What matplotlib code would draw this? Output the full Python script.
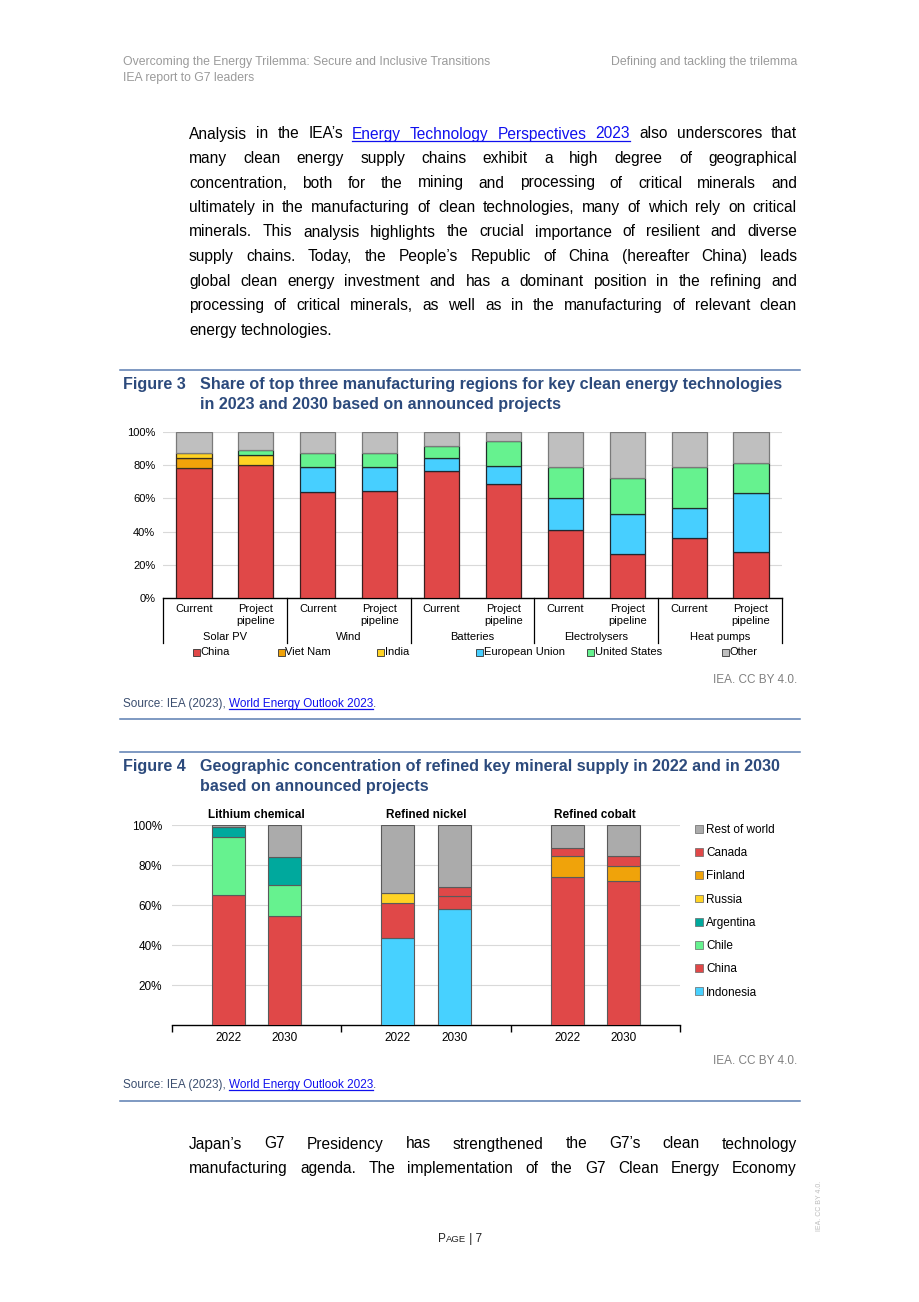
import matplotlib
matplotlib.use('Agg')
import matplotlib.pyplot as plt
from matplotlib import font_manager
from matplotlib.lines import Line2D
from matplotlib.patches import Rectangle
from matplotlib.ticker import PercentFormatter, FixedLocator

################ DATA ########################
# Figure 3 - share of top manufacturing regions (%)
tech_groups = ['Solar PV', 'Wind', 'Batteries', 'Electrolysers', 'Heat pumps']
stage_labels = ['Current', 'Project\npipeline']
f3_series = ['China', 'Viet Nam', 'India', 'European Union', 'United States', 'Other']
f3_china = [78.6, 80.4, 64.0, 64.4, 76.4, 68.4, 40.8, 26.4, 36.0, 27.6]
f3_vietnam = [5.6, 0, 0, 0, 0, 0, 0, 0, 0, 0]
f3_india = [3.4, 5.6, 0, 0, 0, 0, 0, 0, 0, 0]
f3_eu = [0, 0, 15.2, 14.6, 8.2, 11.4, 19.2, 24.0, 18.0, 35.6]
f3_us = [0, 3.2, 8.4, 8.2, 6.8, 15.0, 18.8, 21.6, 25.2, 18.2]
f3_other = [12.4, 10.8, 12.4, 12.8, 8.6, 5.2, 21.2, 28.0, 20.8, 18.6]

# Figure 4 - refined mineral supply (%), order: Li 22, Li 30, Ni 22, Ni 30, Co 22, Co 30
minerals = ['Lithium chemical', 'Refined nickel', 'Refined cobalt']
years = ['2022', '2030']
f4_series = ['Indonesia', 'China', 'Chile', 'Argentina', 'Russia', 'Finland', 'Canada', 'Rest of world']
f4_indonesia = [0, 0, 43.3, 58.0, 0, 0]
f4_china = [65.0, 54.5, 17.7, 6.5, 74.0, 71.8]
f4_chile = [28.8, 15.3, 0, 0, 0, 0]
f4_argentina = [5.0, 14.2, 0, 0, 0, 0]
f4_russia = [0, 0, 4.8, 0, 0, 0]
f4_finland = [0, 0, 0, 0, 10.3, 7.7]
f4_canada = [0, 0, 0, 4.5, 4.0, 5.0]
f4_rest = [1.2, 16.0, 34.2, 31.0, 11.7, 15.5]
##############################################

RED = '#E04848'
ORANGE = '#F0A30A'
YELLOW = '#FFD324'
BLUE = '#47CFFF'
GREEN = '#66F28F'
TEAL = '#00A99D'
GREY = '#BFBFBF'
GREY2 = '#ABABAB'
TITLE_BLUE = '#2C4A7C'
RULE_BLUE = '#5B7DB1'
LINK = '#1010EE'

plt.rcParams['font.family'] = ['Liberation Sans', 'DejaVu Sans']

W, H = 920, 1302
fig = plt.figure(figsize=(W / 100, H / 100), dpi=100)
renderer = fig.canvas.get_renderer()

def fx(x):
    return x / W

def fy(y):
    return 1 - y / H

def text_w(s, **kw):
    t = fig.text(0, 0, s, **kw)
    w = t.get_window_extent(renderer).width
    t.remove()
    return w

def underline(x0, x1, y, color):
    fig.add_artist(Line2D([fx(x0), fx(x1)], [fy(y), fy(y)], color=color, lw=0.9,
                          transform=fig.transFigure))

def parse(line):
    toks = []
    link = False
    for w in line.split(' '):
        if w.startswith('['):
            link = True
            w = w[1:]
        end = w.endswith(']')
        if end:
            w = w[:-1]
        toks.append((w, link))
        if end:
            link = False
    return toks

def body_line(line, base, justify=True, x0=189, x1=797, size=11.2):
    toks = parse(line)
    widths = [text_w(w, fontsize=size) for w, _ in toks]
    space = text_w('a a', fontsize=size) - text_w('aa', fontsize=size)
    if justify and len(toks) > 1:
        gap = (x1 - x0 - sum(widths)) / (len(toks) - 1)
    else:
        gap = space
    x = x0
    link_start = None
    for (w, link), wd in zip(toks, widths):
        fig.text(fx(x), fy(base), w, fontsize=size, va='baseline', ha='left',
                 color=LINK if link else 'black')
        if link:
            if link_start is None:
                link_start = x
            link_end = x + wd
        x += wd + gap
    if link_start is not None:
        underline(link_start, link_end, base + 2, LINK)

def segments(segs, x, y, size, color):
    # segs: list of (text, is_link)
    for s, link in segs:
        wd = text_w(s, fontsize=size)
        fig.text(fx(x), fy(y), s, fontsize=size, va='baseline', ha='left',
                 color=LINK if link else color)
        if link:
            underline(x, x + wd, y + 2, LINK)
        x += wd

#### HEADER
narrow = [f.name for f in font_manager.fontManager.ttflist if f.name == 'Liberation Sans Narrow']
if narrow:
    hfam, hsize = 'Liberation Sans Narrow', 10.3
else:
    hfam, hsize = 'Liberation Sans', 8.8
fig.text(fx(123), fy(62), 'Overcoming the Energy Trilemma: Secure and Inclusive Transitions',
         fontsize=hsize, family=hfam, color='#9A9A9A', va='center')
fig.text(fx(123), fy(78), 'IEA report to G7 leaders', fontsize=hsize, family=hfam,
         color='#9A9A9A', va='center')
fig.text(fx(797), fy(62), 'Defining and tackling the trilemma', fontsize=hsize, family=hfam,
         color='#9A9A9A', va='center', ha='right')

#### BODY TEXT
para1 = [
    'Analysis in the IEA\u2019s [Energy Technology Perspectives 2023] also underscores that',
    'many clean energy supply chains exhibit a high degree of geographical',
    'concentration, both for the mining and processing of critical minerals and',
    'ultimately in the manufacturing of clean technologies, many of which rely on critical',
    'minerals. This analysis highlights the crucial importance of resilient and diverse',
    'supply chains. Today, the People\u2019s Republic of China (hereafter China) leads',
    'global clean energy investment and has a dominant position in the refining and',
    'processing of critical minerals, as well as in the manufacturing of relevant clean',
    'energy technologies.',
]
for i, line in enumerate(para1):
    body_line(line, 138.5 + i * 24.5, justify=(i < len(para1) - 1))

para2 = [
    'Japan\u2019s G7 Presidency has strengthened the G7\u2019s clean technology',
    'manufacturing agenda. The implementation of the G7 Clean Energy Economy',
]
for i, line in enumerate(para2):
    body_line(line, 1148.5 + i * 24.5, justify=True)

#### FIGURE FRAMES
def rule(y):
    fig.add_artist(Line2D([fx(120), fx(800)], [fy(y), fy(y)], color=RULE_BLUE, lw=1.1,
                          transform=fig.transFigure))

def fig_title(num, lines, y0):
    fig.text(fx(123), fy(y0), 'Figure ' + num, fontsize=11.6, fontweight='bold',
             color=TITLE_BLUE, va='center')
    for i, l in enumerate(lines):
        fig.text(fx(200), fy(y0 + 19 * i), l, fontsize=11.6, fontweight='bold',
                 color=TITLE_BLUE, va='center')

def fig_source(y_cc, y_src):
    fig.text(fx(797), fy(y_cc), 'IEA. CC BY 4.0.', fontsize=8.5, color='#808080',
             va='center', ha='right')
    segments([('Source: IEA (2023), ', False), ('World Energy Outlook 2023', True), ('.', False)],
             123, y_src + 4, 8.5, '#3A4D6E')

rule(370)
fig_title('3', ['Share of top three manufacturing regions for key clean energy technologies',
                'in 2023 and 2030 based on announced projects'], 385)
fig_source(680, 703)
rule(719)

rule(752)
fig_title('4', ['Geographic concentration of refined key mineral supply in 2022 and in 2030',
                'based on announced projects'], 767)
fig_source(1061, 1084)
rule(1101)

#### FIGURE 3
ax = fig.add_axes([fx(163), fy(598), (782 - 163) / W, (598 - 432) / H])
n = len(f3_china)
x = list(range(n))
f3_data = [f3_china, f3_vietnam, f3_india, f3_eu, f3_us, f3_other]
f3_colors = [RED, ORANGE, YELLOW, BLUE, GREEN, GREY]
f3_edges = ['#3a2020', '#3a3020', '#3a3020', '#202830', '#20302a', '#7a7a7a']
bottom = [0] * n
for vals, col, ec in zip(f3_data, f3_colors, f3_edges):
    v = [a / 100 for a in vals]
    lw = [0.9 if a > 0 else 0 for a in vals]
    ax.bar(x, v, 0.57, bottom=bottom, color=col, edgecolor=ec, linewidth=lw, zorder=3)
    bottom = [b + a for b, a in zip(bottom, v)]

ax.set_xlim(-0.5, n - 0.5)
ax.set_ylim(0, 1)
ax.set_yticks([0, 0.2, 0.4, 0.6, 0.8, 1.0])
ax.yaxis.set_major_formatter(PercentFormatter(1.0, decimals=0))
ax.grid(axis='y', color='#D9D9D9', lw=0.8, zorder=0)
ax.set_xticks(x)
ax.set_xticklabels(stage_labels * len(tech_groups), fontsize=8, linespacing=1.25)
ax.tick_params(axis='x', length=0, pad=4)
ax.tick_params(axis='y', length=0, labelsize=8, pad=5.5)
for s in ['top', 'right', 'left']:
    ax.spines[s].set_visible(False)
ax.spines['bottom'].set_color('black')
ax.spines['bottom'].set_linewidth(1)
tr = ax.get_xaxis_transform()
for g in range(len(tech_groups) + 1):
    ax.plot([2 * g - 0.5, 2 * g - 0.5], [0, -0.27], color='black', lw=0.9,
            transform=tr, clip_on=False)
for g, name in enumerate(tech_groups):
    ax.text(2 * g + 0.5, -0.235, name, fontsize=8, ha='center', va='center', transform=tr)

# legend row
leg_x = [196, 281, 381, 480, 591, 726]
for lab, col, ec, lx in zip(f3_series, f3_colors, f3_edges, leg_x):
    fig.add_artist(Rectangle((fx(lx - 3.5), fy(655.5)), 7 / W, 7 / H, facecolor=col,
                             edgecolor='#333333', lw=0.6, transform=fig.transFigure))
    fig.text(fx(lx + 4), fy(652), lab, fontsize=8, va='center', ha='left')

#### FIGURE 4
ax2 = fig.add_axes([fx(172), fy(1025), (680 - 172) / W, (1025 - 825) / H])
pos = [1, 2, 4, 5, 7, 8]
f4_data = [f4_indonesia, f4_china, f4_chile, f4_argentina, f4_russia, f4_finland, f4_canada, f4_rest]
f4_colors = ['#47D1FF', RED, GREEN, TEAL, YELLOW, ORANGE, RED, GREY2]
bottom = [0] * len(pos)
handles = []
for vals, col, lab in zip(f4_data, f4_colors, f4_series):
    v = [a / 100 for a in vals]
    lw = [0.8 if a > 0 else 0 for a in vals]
    ax2.bar(pos, v, 0.585, bottom=bottom, color=col, edgecolor='#5a5a5a', linewidth=lw, zorder=3)
    bottom = [b + a for b, a in zip(bottom, v)]
    handles.append(Rectangle((0, 0), 1, 1, facecolor=col, edgecolor='#666666', lw=0.5, label=lab))

ax2.set_xlim(0, 9)
ax2.set_ylim(0, 1)
ax2.set_yticks([0.2, 0.4, 0.6, 0.8, 1.0])
ax2.yaxis.set_major_formatter(PercentFormatter(1.0, decimals=0))
ax2.grid(axis='y', color='#D9D9D9', lw=0.8, zorder=0)
ax2.set_xticks(pos)
ax2.set_xticklabels(years * len(minerals), fontsize=8.5)
ax2.xaxis.set_minor_locator(FixedLocator([0, 3, 6, 9]))
ax2.tick_params(axis='x', which='major', length=0, pad=5)
ax2.tick_params(axis='x', which='minor', length=5, width=1, color='black')
ax2.tick_params(axis='y', length=0, labelsize=8.5, pad=7)
for s in ['top', 'right', 'left']:
    ax2.spines[s].set_visible(False)
ax2.spines['bottom'].set_color('black')
ax2.spines['bottom'].set_linewidth(1)
tr2 = ax2.get_xaxis_transform()
for g, name in enumerate(minerals):
    ax2.text(3 * g + 1.5, 1.052, name, fontsize=8.5, fontweight='bold', ha='center',
             va='center', transform=tr2)

fig.legend(handles=handles[::-1], loc='upper left',
           bbox_to_anchor=(fx(695), fy(824)), frameon=False, fontsize=8.5,
           handlelength=0.65, handleheight=0.65, handletextpad=0.3, labelspacing=0.95,
           borderaxespad=0, borderpad=0)

#### FOOTER
x0 = 460 - (text_w('P', fontsize=8.5) + text_w('AGE', fontsize=6.8) + text_w(' | 7', fontsize=8.5)) / 2
for s, sz in [('P', 8.5), ('AGE', 6.8), (' | 7', 8.5)]:
    fig.text(fx(x0), fy(1242), s, fontsize=sz, va='baseline', ha='left', color='#222222')
    x0 += text_w(s, fontsize=sz)
fig.text(fx(820), fy(1206), 'IEA. CC BY 4.0.', fontsize=5, rotation=90, color='#BBBBBB',
         va='center', ha='center')

fig.savefig('out.png', dpi=100)
